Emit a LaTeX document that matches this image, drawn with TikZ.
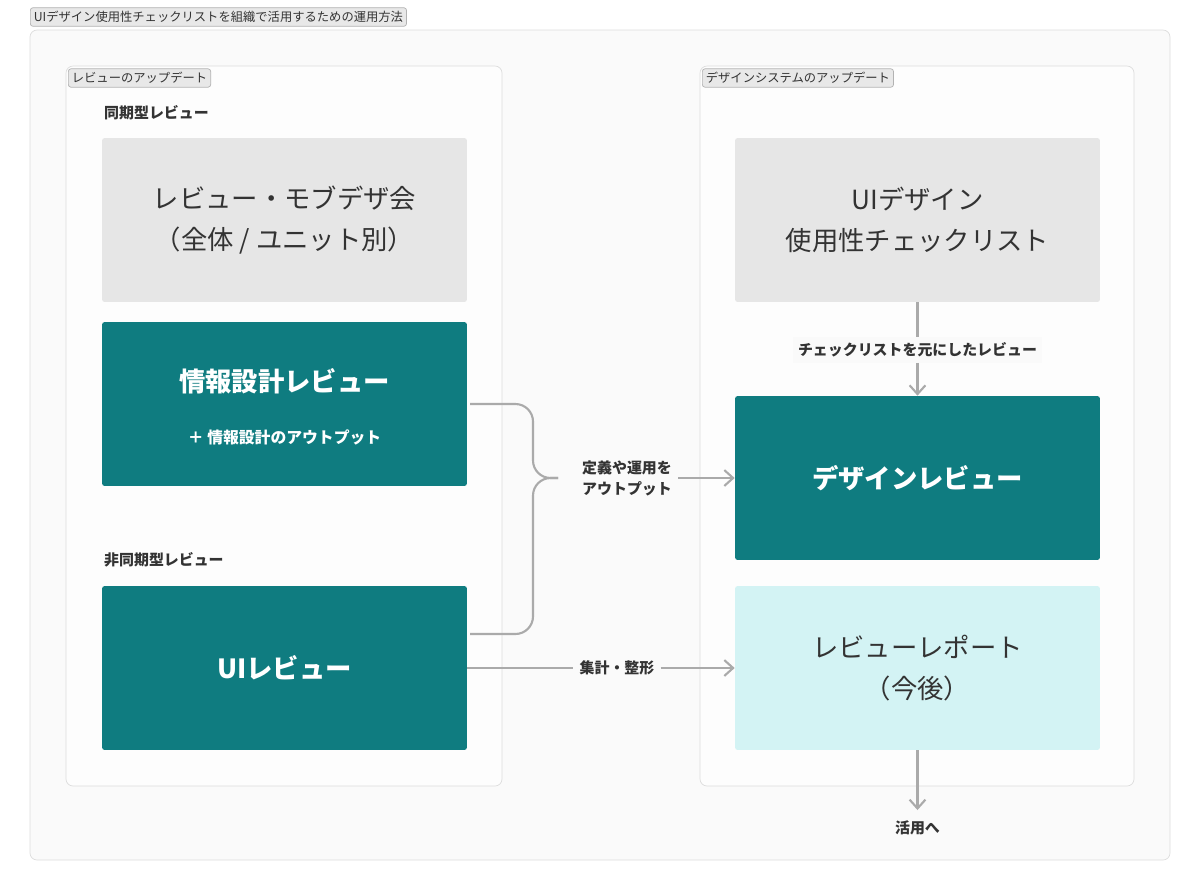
\documentclass[tikz,border=0pt]{standalone}
\usepackage{fontspec}
\setmainfont{Noto Sans CJK JP}
\newfontfamily\jpbold{Noto Sans CJK JP}[FakeBold=0]
\usetikzlibrary{arrows.meta}
\definecolor{tealbox}{HTML}{0F7C80}
\definecolor{graybox}{HTML}{E6E6E6}
\definecolor{cyanbox}{HTML}{D3F3F4}
\definecolor{inktext}{HTML}{333333}
\definecolor{linegray}{HTML}{AAAAAA}
\definecolor{framegray}{HTML}{DDDDDD}
\tikzset{
  bigbox/.style={minimum width=7.3cm, minimum height=3.28cm, rounded corners=1.5pt, align=center, inner sep=0pt},
  graycard/.style={bigbox, fill=graybox, text=inktext, font=\fontsize{15}{23}\selectfont},
  tealcard/.style={bigbox, fill=tealbox, text=white, font=\fontsize{15}{20}\selectfont\bfseries},
  cyancard/.style={bigbox, fill=cyanbox, text=inktext, font=\fontsize{15}{23}\selectfont},
  tagbox/.style={draw=gray!60, fill=gray!18, rounded corners=1.5pt, anchor=west, inner sep=2pt, font=\fontsize{7}{8}\selectfont, text=inktext},
  grouplbl/.style={anchor=west, font=\fontsize{8.5}{10}\selectfont\bfseries, text=inktext},
  conlbl/.style={align=center, font=\fontsize{8.5}{12}\selectfont\bfseries, text=inktext},
  conn/.style={draw=linegray, line width=1.2pt},
  arr/.style={conn, -{Straight Barb[length=5pt,width=9pt]}}
}
\begin{document}
\begin{tikzpicture}[x=0.02cm, y=-0.02cm]
    \useasboundingbox (0,0) rectangle (1200,890);
    % Frames
    \draw[framegray, fill=gray!4, rounded corners=4pt] (30,30) rectangle (1170,860);
    \node[tagbox] (title) at (30,17) {UIデザイン使用性チェックリストを組織で活用するための運用方法};
    \draw[framegray, fill=white!60!gray!4, rounded corners=4pt] (66,66) rectangle (502,786);
    \draw[framegray, fill=white!60!gray!4, rounded corners=4pt] (700,66) rectangle (1134,786);
    \node[tagbox] (lefttag) at (68,78) {レビューのアップデート};
    \node[tagbox] (righttag) at (702,78) {デザインシステムのアップデート};

    % Left column
    \node[grouplbl] (sync) at (98,113) {同期型レビュー};
    \node[graycard] (mob) at (284.5,220) {レビュー・モブデザ会\\（全体 / ユニット別）};
    \node[tealcard] (ia) at (284.5,404) {};
    \node[font=\fontsize{15}{18}\selectfont\bfseries, text=white] (iatitle) at (284.5,381) {情報設計レビュー};
    \node[font=\fontsize{9}{11}\selectfont\bfseries, text=white] (iasub) at (284.5,437) {＋ 情報設計のアウトプット};
    \node[grouplbl] (async) at (98,560) {非同期型レビュー};
    \node[tealcard] (ui) at (284.5,668) {UIレビュー};

    % Right column
    \node[graycard] (check) at (917.5,220) {UIデザイン\\使用性チェックリスト};
    \node[tealcard] (dr) at (917.5,478) {デザインレビュー};
    \node[cyancard] (report) at (917.5,668) {レビューレポート\\（今後）};
    \node[conlbl, fill=gray!4, inner sep=3pt] (basis) at (917.5,350) {チェックリストを元にしたレビュー};
    \draw[conn] (check.south) -- (basis.north);
    \draw[arr] (basis.south) -- (dr.north);
    \coordinate (useend) at (917.5,810);
    \draw[arr] (report.south) -- (useend);
    \node[conlbl] (use) at (917.5,828) {活用へ};

    % Connectors between columns
    \node[conlbl] (def) at (627,478) {定義や運用を\\アウトプット};
    \coordinate (iaout) at (470,404);
    \coordinate (uiout) at (470,634);
    \coordinate (join) at (558,478);
    \draw[conn, rounded corners=10pt] (iaout) -- (533,404) -- (533,478) -- (join);
    \draw[conn, rounded corners=10pt] (uiout) -- (533,634) -- (533,478) -- (join);
    \draw[arr] (def.east) -- (dr.west);
    \node[conlbl] (agg) at (617,668) {集計・整形};
    \draw[conn] (ui.east) -- (agg.west);
    \draw[arr] (agg.east) -- (report.west);
\end{tikzpicture}
\end{document}
